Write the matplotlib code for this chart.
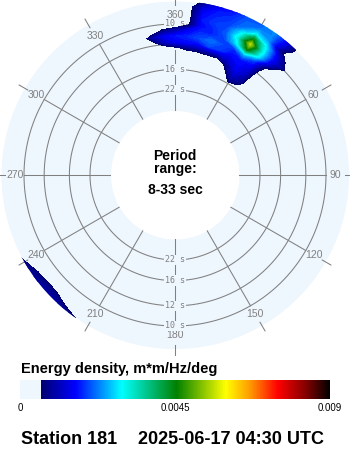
import numpy as np
import matplotlib
matplotlib.use('Agg')
import matplotlib.pyplot as plt
from matplotlib.colors import LinearSegmentedColormap, Normalize
from matplotlib.cm import ScalarMappable

plt.rcParams['font.family'] = ['Liberation Sans', 'DejaVu Sans']

disk_color = '#EEF6FE'
grid_color = '#808080'

# energy density, in units of 1e-4 m*m/Hz/deg
energy_threshold = 6
energy_max = 90

# main swell blob (north-east), directions in degrees (negative = west of north)
main_dirs = [-15, -10, -5, 0, 5, 10, 15, 20, 25, 30, 35, 40, 45, 50]
main_freqs = [0.060, 0.065, 0.070, 0.075, 0.080, 0.085, 0.090,
              0.095, 0.100, 0.105, 0.110, 0.115, 0.120]
main_energy = [
    [0, 0, 0, 0, 0, 0, 0, 0, 0, 0, 0, 0, 0, 0],
    [0, 0, 0, 0, 0, 0, 0, 0, 0, 8, 5, 0, 0, 0],
    [0, 0, 0, 0, 0, 0, 0, 0, 4, 12, 9, 0, 0, 0],
    [0, 0, 0, 0, 2, 1, 2, 0, 8, 15, 11, 0, 0, 0],
    [0, 0, 1, 4, 7, 8, 9, 10, 13, 16, 13, 1, 0, 0],
    [0, 3, 11, 15, 16, 16, 20, 19, 16, 17, 15, 3, 0, 0],
    [0, 9, 15, 17, 18, 20, 22, 20, 18, 26, 19, 6, 0, 0],
    [0, 1, 7, 10, 15, 18, 18, 20, 28, 46, 30, 14, 2, 0],
    [0, 0, 0, 0, 5, 16, 18, 21, 32, 56, 32, 17, 8, 0],
    [0, 0, 0, 0, 4, 17, 19, 20, 28, 44, 30, 16, 5, 0],
    [0, 0, 0, 0, 4, 16, 18, 19, 22, 28, 24, 9, 0, 0],
    [0, 0, 0, 0, 4, 14, 17, 18, 21, 22, 23, 14, 3, 0],
    [0, 0, 0, 0, 0, 8, 14, 16, 20, 20, 24, 16, 4, 0],
]

# thin sliver south-west at the high frequency edge
sliver_dirs = [210, 215, 220, 225, 230, 235, 240, 245]
sliver_freqs = [0.105, 0.110, 0.115, 0.120, 0.125]
sliver_energy = [
    [0, 0, 0, 0, 0, 0, 0, 0],
    [0, 0, 0, 3, 4, 2, 0, 0],
    [0, 0, 5, 8, 8, 7, 3, 0],
    [0, 7, 9, 10, 10, 9, 8, 3],
    [2, 8, 10, 11, 11, 10, 8, 4],
]

ring_periods = [10, 12, 16, 22]
spoke_dirs = list(range(0, 360, 30))
dir_labels = ['360', '30', '60', '90', '120', '150',
              '180', '210', '240', '270', '300', '330']

cbar_ticks = [0, 45, 90]
cbar_ticklabels = ['0', '0.0045', '0.009']

# radius in pixels = 30 + 1210 * freq
r_origin = -30 / 1210
r_hole = 34 / 1210
r_edge = 144 / 1210
r_label = 130 / 1210
r_tick_in = 140 / 1210
r_tick_out = 150 / 1210

# colormap: background below threshold, then navy..blue..cyan..green..yellow..red..black
grad = [(0.0, '#00006E'), (0.12, '#0000FF'), (0.28, '#00FFFF'), (0.47, '#008000'),
        (0.64, '#FFFF00'), (0.72, '#FFA000'), (0.82, '#FF0000'), (0.92, '#800000'),
        (1.0, '#000000')]
lo = energy_threshold / energy_max
nodes = [(0.0, disk_color), (lo, disk_color)]
nodes += [(lo + 1e-6 + p * (1 - lo - 1e-6), c) for p, c in grad]
cmap = LinearSegmentedColormap.from_list('cdip', nodes, N=512)
norm = Normalize(0, energy_max)
levels = np.arange(energy_threshold, energy_max + 1, 1)

W, H = 350, 450
fig = plt.figure(figsize=(W / 100, H / 100), dpi=100)

ax = fig.add_axes([1 / W, 101 / H, 348 / W, 348 / H], projection='polar')
ax.set_theta_zero_location('N')
ax.set_theta_direction(-1)
ax.set_ylim(r_hole, r_edge)
ax.set_rorigin(r_origin)
ax.axis('off')

theta = np.linspace(0, 2 * np.pi, 721)
# light blue annulus between the period limits
ax.fill_between(theta, r_hole, r_edge, color=disk_color, lw=0, zorder=0)

for T in ring_periods:
    ax.plot(theta, np.full_like(theta, 1 / T), color=grid_color, lw=0.75, zorder=1)

for d, lab in zip(spoke_dirs, dir_labels):
    a = np.deg2rad(d)
    ax.plot([a, a], [r_hole, 1 / ring_periods[0]], color=grid_color, lw=0.75, zorder=1)
    ax.plot([a, a], [r_tick_in, r_tick_out], color=grid_color, lw=0.75,
            zorder=1, clip_on=False)
    ax.text(a, r_label, lab, ha='center', va='center', fontsize=7.5,
            color=grid_color, zorder=2)

for T in ring_periods:
    for a in (0, np.pi):
        ax.text(a, 1 / T, f'{T} s', ha='center', va='center', fontsize=6,
                family='DejaVu Sans Mono', color=grid_color, zorder=2,
                bbox=dict(facecolor=disk_color, edgecolor='none', pad=0.6))

ax.contourf(np.deg2rad(main_dirs), main_freqs, main_energy,
            levels=levels, cmap=cmap, norm=norm, zorder=3)
ax.contourf(np.deg2rad(sliver_dirs), sliver_freqs, sliver_energy,
            levels=levels, cmap=cmap, norm=norm, zorder=3)

# centre text
fig.text(175 / W, 1 - 160 / H, 'Period', ha='center', va='baseline',
         fontsize=10, fontweight='bold')
fig.text(175 / W, 1 - 173 / H, 'range:', ha='center', va='baseline',
         fontsize=10, fontweight='bold')
fig.text(175 / W, 1 - 194 / H, '8-33 sec', ha='center', va='baseline',
         fontsize=10, fontweight='bold')

# colour bar
fig.text(21 / W, 1 - 373 / H, 'Energy density, m*m/Hz/deg', ha='left',
         va='baseline', fontsize=10.5, fontweight='bold')
cax = fig.add_axes([20 / W, 1 - 399 / H, 310 / W, 19 / H])
cb = fig.colorbar(ScalarMappable(norm=norm, cmap=cmap), cax=cax,
                  orientation='horizontal')
cb.set_ticks(cbar_ticks)
cb.set_ticklabels(cbar_ticklabels)
cb.outline.set_visible(False)
cax.tick_params(length=0, pad=3, labelsize=7)

fig.text(21 / W, 1 - 444 / H, 'Station 181', ha='left', va='baseline',
         fontsize=13, fontweight='bold')
fig.text(138 / W, 1 - 444 / H, '2025-06-17 04:30 UTC', ha='left', va='baseline',
         fontsize=13, fontweight='bold')

fig.savefig('out.png', dpi=100)
